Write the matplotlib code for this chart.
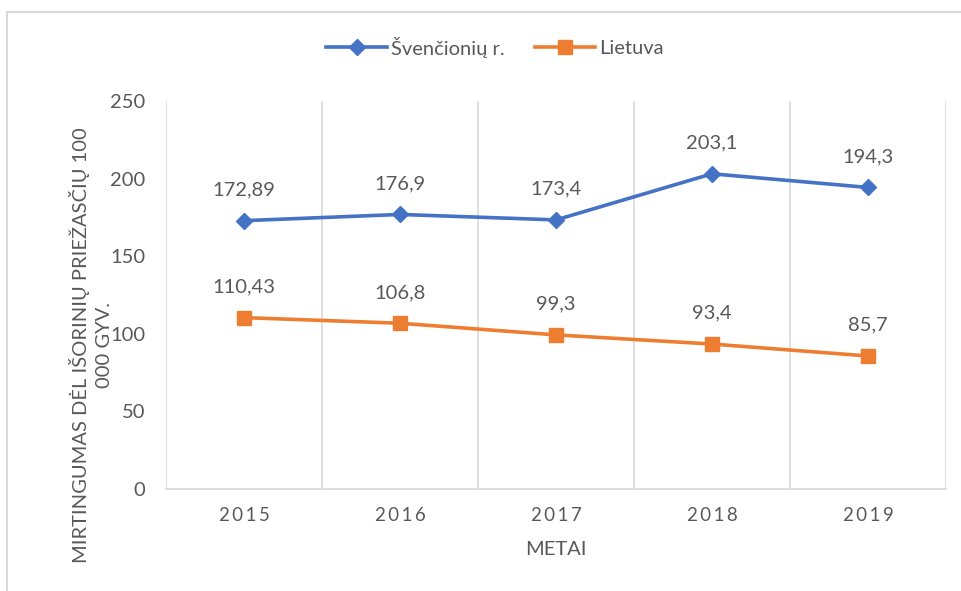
import matplotlib.pyplot as plt
from matplotlib.lines import Line2D

plt.rcParams['font.family'] = ['Lato', 'DejaVu Sans']

years = ['2015', '2016', '2017', '2018', '2019']
svencionys = [172.89, 176.9, 173.4, 203.1, 194.3]
lietuva = [110.43, 106.8, 99.3, 93.4, 85.7]
sv_labels = ['172,89', '176,9', '173,4', '203,1', '194,3']
lt_labels = ['110,43', '106,8', '99,3', '93,4', '85,7']

blue = '#4472C4'
orange = '#ED7D31'
grey = '#595959'
gridc = '#D9D9D9'

fig = plt.figure(figsize=(9.62, 5.91), dpi=100)
# chart frame (left and top edges visible)
fig.add_artist(Line2D([7.5 / 962, 7.5 / 962], [0, 1 - 11.5 / 591], transform=fig.transFigure,
                      color=gridc, lw=1.5))
fig.add_artist(Line2D([7.5 / 962, 1], [1 - 11.5 / 591, 1 - 11.5 / 591], transform=fig.transFigure,
                      color=gridc, lw=1.5))
ax = fig.add_axes([166 / 962, 102 / 591, 780 / 962, 388 / 591])

x = range(len(years))
ax.plot(x, svencionys, color=blue, lw=2.6, marker='D', ms=8.5, label='Švenčionių r.')
ax.plot(x, lietuva, color=orange, lw=2.6, marker='s', ms=10.5, label='Lietuva')

for i in x:
    ax.annotate(sv_labels[i], (i, svencionys[i]), xytext=(0, 16), textcoords='offset points',
                ha='center', va='bottom', fontsize=14.5, color=grey)
    ax.annotate(lt_labels[i], (i, lietuva[i]), xytext=(0, 16), textcoords='offset points',
                ha='center', va='bottom', fontsize=14.5, color=grey)

ax.set_xlim(-0.5, 4.5)
ax.set_ylim(0, 250)
ax.set_yticks([0, 50, 100, 150, 200, 250])
ax.set_xticks(list(x))
ax.set_xticklabels(['\u2009'.join(y) for y in years], fontsize=13.5, color=grey)
ax.tick_params(axis='y', labelsize=14.5, labelcolor=grey, length=0, pad=15)
ax.tick_params(axis='x', length=0, pad=13)

for b in [-0.5, 0.5, 1.5, 2.5, 3.5, 4.5]:
    ax.axvline(b, color=gridc, lw=1.2, zorder=0)
for s in ['top', 'right', 'left']:
    ax.spines[s].set_visible(False)
ax.spines['bottom'].set_color(gridc)
ax.spines['bottom'].set_linewidth(1.2)

ax.set_xlabel('METAI', fontsize=14.5, color=grey, labelpad=12)
ax.set_ylabel('MIRTINGUMAS DĖL IŠORINIŲ PRIEŽASČIŲ 100\n000 GYV.', fontsize=14.5,
              color=grey, linespacing=1.45)
ax.yaxis.set_label_coords(-0.068, 0.371)

fig.legend(loc='center', bbox_to_anchor=(495 / 962, 1 - 47 / 591), ncol=2, frameon=False,
           fontsize=14.5, labelcolor=grey, handlelength=3, handletextpad=0.2,
           columnspacing=1.5)

fig.savefig('out.png', dpi=100)
